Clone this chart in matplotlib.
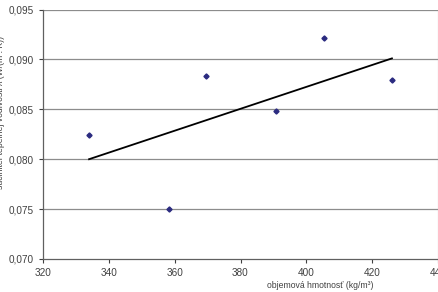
import matplotlib.pyplot as plt
from matplotlib.ticker import FuncFormatter

# measured points
density = [334.0, 358.3, 369.6, 390.8, 405.5, 426.1]
conductivity = [0.0824, 0.0750, 0.0883, 0.0848, 0.0921, 0.0879]

# trend line endpoints as drawn
trend_x = [334.0, 426.0]
trend_y = [0.0800, 0.0901]

xticks = [320, 340, 360, 380, 400, 420, 440]
yticks = [0.070, 0.075, 0.080, 0.085, 0.090, 0.095]

plt.rcParams['font.family'] = ['Liberation Sans', 'DejaVu Sans']

fig = plt.figure(figsize=(4.38, 2.92), dpi=100)
ax = fig.add_axes([43 / 438, 1 - 259 / 292, 395 / 438, 249.5 / 292])

for y in yticks[1:]:
    ax.axhline(y, color='#8c8c8c', lw=0.9, zorder=1)

ax.plot(trend_x, trend_y, color='black', lw=1.3, zorder=2)
ax.plot(density, conductivity, linestyle='none', marker='D', ms=2.6,
        color='#2b2b80', zorder=3)

ax.set_xlim(320, 440)
ax.set_ylim(0.070, 0.095)
ax.set_xticks(xticks)
ax.set_yticks(yticks)
ax.yaxis.set_major_formatter(FuncFormatter(lambda v, p: f"{v:.3f}".replace('.', ',')))
ax.tick_params(labelsize=7.2, colors='#404040', length=3, width=0.8, direction='out')

for side in ['left', 'bottom']:
    ax.spines[side].set_color('#606060')
    ax.spines[side].set_linewidth(0.9)
ax.spines['top'].set_visible(False)
ax.spines['right'].set_color('#b0b0b0')

fig.text(320 / 438, 1 - 285 / 292, 'objemová hmotnosť (kg/m³)', fontsize=6.2,
         color='#404040', ha='center', va='center')
fig.text(1 / 438, 1 - 112 / 292, 'súčiniteľ tepelnej vodivosti λ (W/(m . K))',
         fontsize=6.2, color='#404040', rotation=90, ha='center', va='center')

fig.savefig('out.png', dpi=100)
